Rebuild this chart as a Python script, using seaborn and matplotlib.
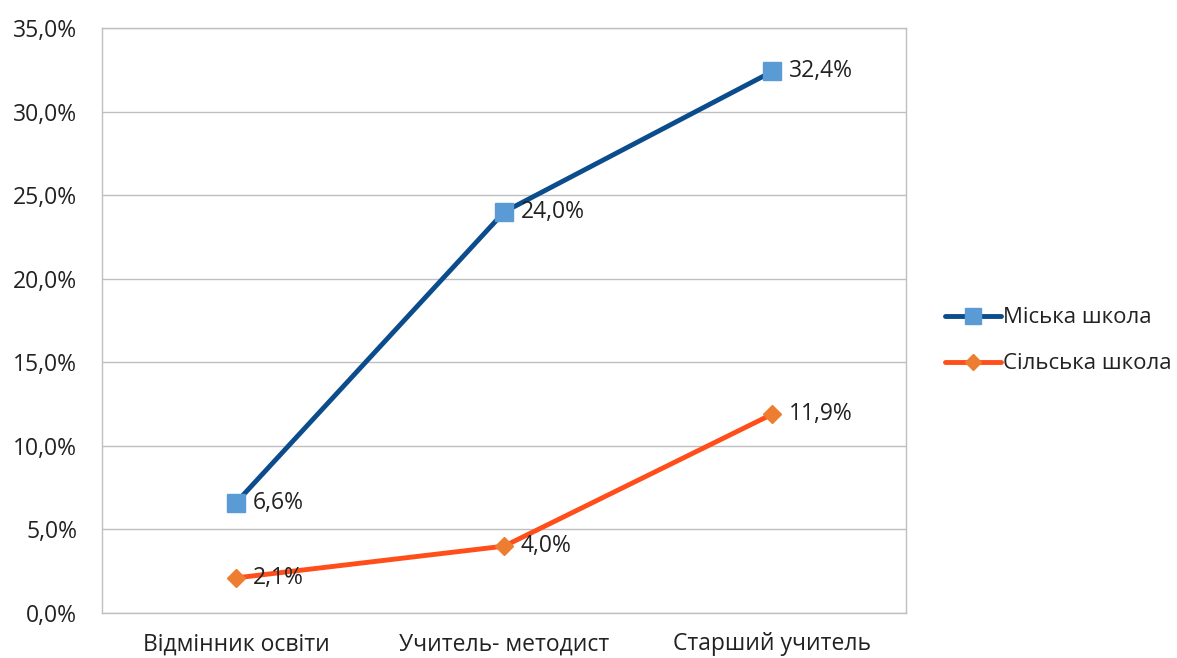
import pandas as pd
import seaborn as sns
import matplotlib.pyplot as plt
from matplotlib.lines import Line2D

categories = ['Відмінник освіти', 'Учитель- методист', 'Старший учитель']
series_names = ['Міська школа', 'Сільська школа']
misto = [6.6, 24.0, 32.4]
selo = [2.1, 4.0, 11.9]
yticks = [0, 5, 10, 15, 20, 25, 30, 35]

sns.set_theme(style='white')
plt.rcParams['font.family'] = ['Open Sans', 'DejaVu Sans']

df = pd.DataFrame({'cat': categories * 2,
                   'val': misto + selo,
                   'series': [series_names[0]] * 3 + [series_names[1]] * 3})
df['x'] = [0, 1, 2] * 2

line_colors = {'Міська школа': '#0B4C8C', 'Сільська школа': '#FF4E1A'}
marker_colors = {'Міська школа': '#5B9BD5', 'Сільська школа': '#ED7D31'}
markers = {'Міська школа': 's', 'Сільська школа': 'D'}
msize = {'Міська школа': 13, 'Сільська школа': 9}
fs = 16.5

fig = plt.figure(figsize=(11.77, 6.58), dpi=100)
ax = fig.add_axes([0.0867, 0.0684, 0.6834, 0.8890])

sns.lineplot(data=df, x='x', y='val', hue='series', palette=line_colors,
             linewidth=3.5, ax=ax, legend=False)
for s in series_names:
    sub = df[df.series == s]
    ax.plot(sub.x, sub.val, linestyle='none', marker=markers[s],
            markersize=msize[s], color=marker_colors[s], zorder=5)
    for xv, yv in zip(sub.x, sub.val):
        ax.annotate(f'{yv:.1f}%'.replace('.', ','), (xv, yv), xytext=(12, 0),
                    textcoords='offset points', va='center', ha='left',
                    fontsize=fs, color='#222222', zorder=6)

ax.set_xlim(-0.5, 2.5)
ax.set_ylim(0, 35)
ax.set_yticks(yticks)
ax.set_yticklabels([f'{v:.1f}%'.replace('.', ',') for v in yticks])
ax.set_xticks([0, 1, 2])
ax.set_xticklabels(categories)
ax.tick_params(axis='both', labelsize=fs, colors='#222222', length=0)
ax.tick_params(axis='y', pad=18)
ax.tick_params(axis='x', pad=14)
ax.set_xlabel('')
ax.set_ylabel('')
ax.yaxis.grid(True, color='#BFBFBF', linewidth=1)
ax.set_axisbelow(True)
for sp in ax.spines.values():
    sp.set_color('#BFBFBF')
    sp.set_linewidth(1)

handles = [Line2D([0], [0], color=line_colors[s], linewidth=3.5, marker=markers[s],
                  markersize=msize[s] * 0.9, markerfacecolor=marker_colors[s],
                  markeredgecolor=marker_colors[s]) for s in series_names]
fig.legend(handles, series_names, loc='center left', bbox_to_anchor=(0.803, 0.482),
           frameon=False, fontsize=16, handlelength=2.5, handletextpad=0.1,
           borderpad=0, borderaxespad=0, labelspacing=1.12, labelcolor='#222222')

fig.savefig('out.png', dpi=100)
